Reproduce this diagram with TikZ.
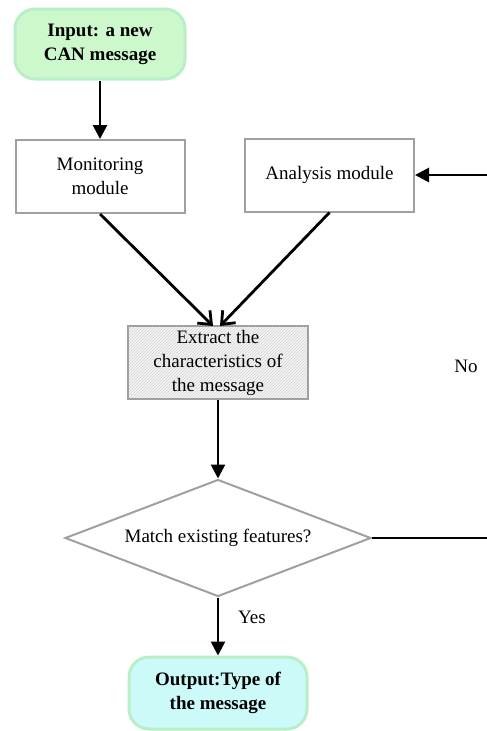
\documentclass[tikz,border=0pt]{standalone}
\usepackage{fontspec}
\setmainfont{Liberation Serif}
\usetikzlibrary{arrows.meta,shapes.geometric,patterns}
\definecolor{ingreen}{HTML}{CCF8CC}
\definecolor{outcyan}{HTML}{CCFAF8}
\definecolor{glow}{HTML}{B8EEC8}
\definecolor{boxgray}{HTML}{A0A0A0}
\tikzset{
  txt/.style={font=\fontsize{19}{24}\selectfont, align=center},
  term/.style={txt, font=\fontsize{19}{24}\selectfont\bfseries, rounded corners=20pt, draw=glow, line width=3pt, minimum width=170pt, minimum height=70pt, inner sep=0pt},
  modbox/.style={txt, draw=boxgray, line width=2pt, minimum width=169pt, minimum height=73pt, inner sep=0pt},
  arr/.style={line width=2.8pt, -{Triangle[length=14pt,width=14pt]}},
  barb/.style={line width=2.8pt, -{Straight Barb[length=11pt,width=18pt,line width=2.8pt]}},
  plain/.style={line width=1.5pt}
}
\begin{document}
\begin{tikzpicture}[x=1pt,y=-1pt]
\useasboundingbox (0,0) rectangle (487,731);
\node[term, fill=ingreen] (in) at (100,44) {Input: a new\\CAN message};
\node[modbox] (mon) at (100,176.5) {Monitoring\\module};
\node[modbox] (ana) at (329.5,175) {Analysis module};
\node[modbox, minimum width=180pt, minimum height=73pt, preaction={fill=gray!8}, pattern=north east lines, pattern color=gray!35] (ext) at (218,362.5) {Extract the\\characteristics of\\the message};
\node[txt, draw=boxgray, line width=2pt, diamond, aspect=2.6, minimum width=306pt, minimum height=117pt, inner sep=0pt] (dia) at (218,538) {Match existing features?};
\node[term, fill=outcyan, minimum width=178pt, minimum height=72pt] (out) at (218,693) {Output:Type of\\the message};
\coordinate (edgeA) at (487,175);
\coordinate (edgeD) at (487,538);
\coordinate (extL) at (213,326);
\coordinate (extR) at (220,326);
\node[txt] (no) at (466,366) {No};
\node[txt] (yes) at (252,617) {Yes};
\draw[arr] (in.south) -- (mon.north);
\draw[arr] (edgeA) -- (ana.east);
\draw[barb] (mon.south) -- (extL);
\draw[barb] (ana.south) -- (extR);
\draw[arr] (ext.south) -- (dia.north);
\draw[plain] (dia.east) -- (edgeD);
\draw[arr] (dia.south) -- (out.north);
\end{tikzpicture}
\end{document}
